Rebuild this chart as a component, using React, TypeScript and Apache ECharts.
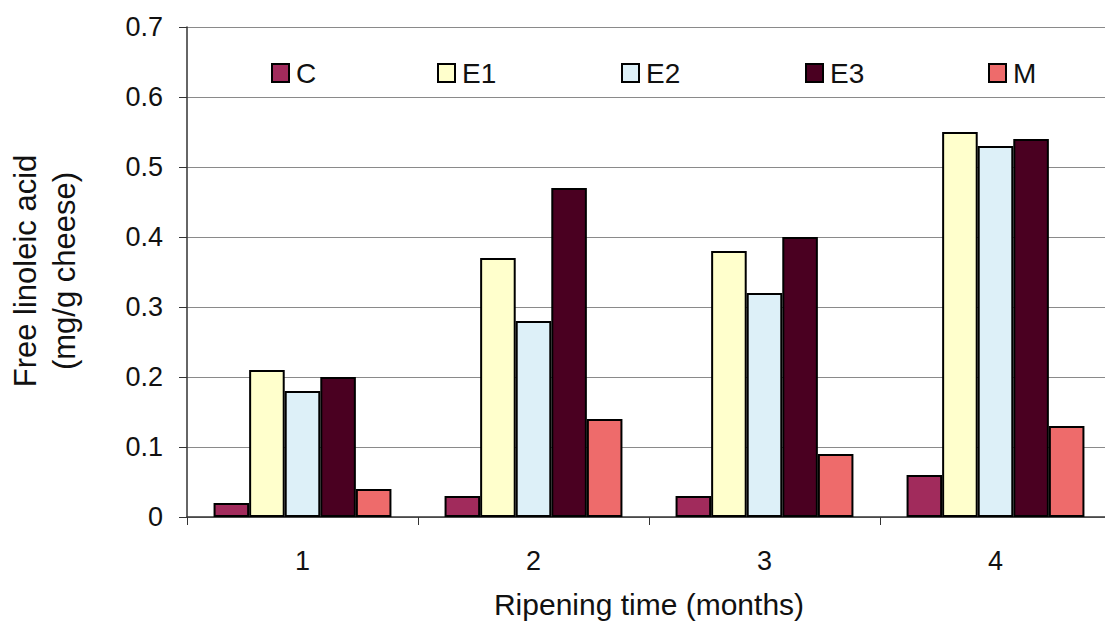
import React, { useEffect, useRef } from "react";
import * as echarts from "echarts";

const months = ["1", "2", "3", "4"];
const seriesNames = ["C", "E1", "E2", "E3", "M"];
const valuesC = [0.02, 0.03, 0.03, 0.06];
const valuesE1 = [0.21, 0.37, 0.38, 0.55];
const valuesE2 = [0.18, 0.28, 0.32, 0.53];
const valuesE3 = [0.2, 0.47, 0.4, 0.54];
const valuesM = [0.04, 0.14, 0.09, 0.13];
const seriesColors = ["#a12b5c", "#ffffcc", "#ddf0f8", "#4a0021", "#ee6b6b"];
const legendLefts = [271, 437, 621, 805, 988];

const FONT = "Arial, 'Liberation Sans', Helvetica, sans-serif";

export default function App() {
  const ref = useRef<HTMLDivElement>(null);

  useEffect(() => {
    if (!ref.current) return;
    const chart = echarts.init(ref.current, null, { renderer: "svg" });
    const allValues = [valuesC, valuesE1, valuesE2, valuesE3, valuesM];

    chart.setOption({
      animation: false,
      backgroundColor: "#ffffff",
      textStyle: { fontFamily: FONT, color: "#111" },
      legend: seriesNames.map((name, i) => ({
        data: [name],
        left: legendLefts[i],
        top: 59,
        icon: "rect",
        itemWidth: 17,
        itemHeight: 18,
        itemGap: 0,
        padding: 0,
        textStyle: { fontSize: 28, fontFamily: FONT, color: "#111", padding: [2, 0, 0, 2] },
      })),
      // plot area runs slightly past the right edge of the canvas
      grid: {
        left: 187,
        right: -6,
        top: 27,
        bottom: 109,
        containLabel: false,
        outerBoundsMode: "none",
      },
      xAxis: {
        type: "category",
        data: months,
        axisLine: { lineStyle: { color: "#333", width: 1.5 } },
        axisTick: { show: true, length: 8, lineStyle: { color: "#333" } },
        axisLabel: { fontSize: 27, color: "#111", margin: 30, fontFamily: FONT },
        name: "Ripening time (months)",
        nameLocation: "middle",
        nameGap: 72,
        nameTextStyle: { fontSize: 30, color: "#111", fontFamily: FONT },
      },
      yAxis: {
        type: "value",
        min: 0,
        max: 0.7,
        interval: 0.1,
        axisLine: { show: true, lineStyle: { color: "#333", width: 1.5 } },
        axisTick: { show: true, length: 8, lineStyle: { color: "#333" } },
        axisLabel: {
          fontSize: 27,
          color: "#111",
          margin: 24,
          fontFamily: FONT,
          formatter: (v: number) => (v === 0 ? "0" : v.toFixed(1)),
        },
        splitLine: { show: true, lineStyle: { color: "#8a8a8a", width: 1.2 } },
      },
      graphic: [
        {
          type: "text",
          x: 25,
          y: 271,
          rotation: Math.PI / 2,
          style: {
            text: "Free linoleic acid",
            font: `31px ${FONT}`,
            fill: "#111",
            align: "center",
            verticalAlign: "middle",
          },
        },
        {
          type: "text",
          x: 64,
          y: 271,
          rotation: Math.PI / 2,
          style: {
            text: "(mg/g cheese)",
            font: `31px ${FONT}`,
            fill: "#111",
            align: "center",
            verticalAlign: "middle",
          },
        },
      ],
      series: seriesNames.map((name, i) => ({
        name,
        type: "bar",
        data: allValues[i],
        barGap: "0%",
        barCategoryGap: "23%",
        itemStyle: { color: seriesColors[i], borderColor: "#000", borderWidth: 2 },
      })),
    });

    return () => chart.dispose();
  }, []);

  return (
    <div
      ref={ref}
      style={{ position: "absolute", left: 0, top: 0, width: 1105, height: 626 }}
    />
  );
}
